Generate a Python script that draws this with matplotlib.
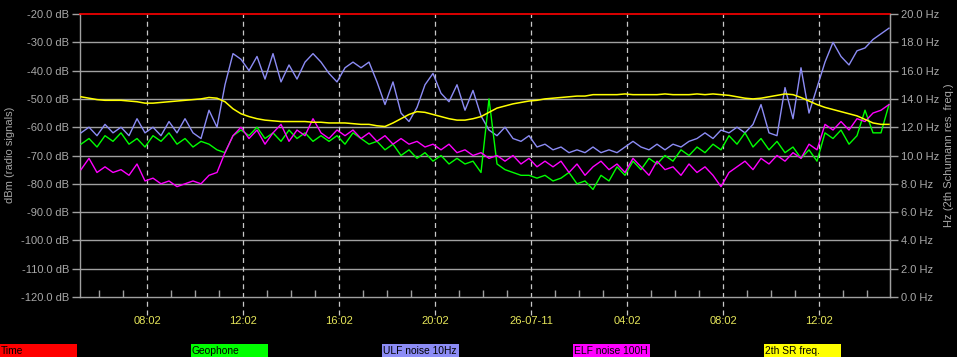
import numpy as np
import matplotlib
matplotlib.use('Agg')
import matplotlib.pyplot as plt
from matplotlib.patches import Rectangle

plt.rcParams['font.family'] = ['Liberation Sans', 'DejaVu Sans']

# time axis: hours relative to 08:02 of day 1, samples every 20 minutes
T_START = -2.75
T_STEP = 1 / 3

ulf = [-62, -60, -63, -59, -62, -60, -63, -57, -62, -60,
       -63, -58, -62, -57, -62, -64, -54, -60, -45, -34,
       -36, -40, -35, -43, -34, -44, -38, -43, -37, -34,
       -37, -41, -44, -39, -37, -39, -37, -44, -52, -44,
       -55, -58, -53, -45, -41, -48, -51, -45, -54, -47,
       -56, -61, -63, -60, -64, -65, -63, -67, -66, -68,
       -67, -69, -68, -69, -67, -69, -68, -69, -67, -65,
       -67, -68, -66, -68, -66, -67, -65, -64, -62, -64,
       -61, -62, -60, -62, -59, -52, -62, -63, -46, -57,
       -39, -55, -46, -37, -30, -35, -38, -33, -32, -29,
       -27, -25]

geophone = [-66, -64, -67, -63, -65, -62, -66, -64, -67, -63,
            -65, -62, -66, -64, -67, -65, -66, -68, -69, -63,
            -61, -63, -60, -64, -62, -65, -61, -64, -62, -65,
            -63, -65, -63, -66, -62, -64, -66, -65, -68, -66,
            -70, -68, -71, -69, -72, -70, -73, -71, -73, -72,
            -76, -50, -73, -75, -76, -77, -77, -78, -77, -79,
            -78, -76, -80, -79, -82, -77, -79, -74, -77, -72,
            -75, -71, -73, -70, -72, -68, -70, -67, -69, -66,
            -68, -63, -66, -62, -67, -64, -68, -65, -69, -67,
            -71, -68, -72, -62, -64, -61, -66, -63, -54, -62,
            -62, -52]

elf = [-75, -71, -76, -74, -76, -75, -77, -73, -79, -78,
       -80, -79, -81, -80, -79, -80, -77, -76, -69, -63,
       -60, -64, -61, -66, -62, -59, -65, -61, -63, -57,
       -62, -64, -61, -63, -61, -64, -62, -65, -63, -66,
       -64, -66, -65, -67, -66, -68, -66, -69, -68, -70,
       -69, -71, -70, -72, -70, -73, -71, -74, -72, -74,
       -72, -76, -73, -77, -74, -72, -75, -73, -76, -71,
       -74, -77, -72, -75, -74, -77, -73, -76, -74, -77,
       -81, -76, -74, -72, -75, -71, -73, -70, -72, -69,
       -71, -66, -68, -59, -61, -58, -61, -57, -58, -55,
       -54, -52]

sr_freq = [14.15, 14.05, 13.95, 13.9, 13.9, 13.9, 13.85, 13.8, 13.7, 13.7,
           13.75, 13.8, 13.85, 13.9, 13.95, 14.0, 14.1, 14.05, 13.8, 13.3,
           12.95, 12.75, 12.6, 12.5, 12.45, 12.4, 12.4, 12.4, 12.4, 12.35,
           12.35, 12.3, 12.3, 12.3, 12.25, 12.2, 12.2, 12.1, 12.05, 12.3,
           12.6, 12.9, 13.1, 13.05, 12.9, 12.75, 12.6, 12.5, 12.5, 12.6,
           12.75, 13.05, 13.35, 13.5, 13.65, 13.75, 13.85, 13.9, 14.0, 14.05,
           14.1, 14.15, 14.2, 14.2, 14.3, 14.3, 14.3, 14.3, 14.35, 14.3,
           14.3, 14.3, 14.3, 14.35, 14.3, 14.3, 14.3, 14.35, 14.3, 14.35,
           14.3, 14.25, 14.15, 14.05, 14.0, 14.05, 14.15, 14.25, 14.35, 14.3,
           14.1, 13.85, 13.6, 13.4, 13.25, 13.1, 12.95, 12.8, 12.55, 12.3,
           12.2, 12.2]

time_tick_pos = [0, 4, 8, 12, 16, 20, 24, 28]
time_tick_labels = ['08:02', '12:02', '16:02', '20:02', '26-07-11', '04:02', '08:02', '12:02']
legend_labels = ['Time', 'Geophone', 'ULF noise 10Hz', 'ELF noise 100H', '2th SR freq.']
legend_colors = ['#ff0000', '#00ff00', '#8c8cf5', '#ff00ff', '#ffff00']

GRID = '#a0a0a0'
LABEL = '#a8a8a8'
XLAB = '#e6e65a'

t = T_START + T_STEP * np.arange(len(ulf))

W, H = 957, 357
fig = plt.figure(figsize=(W / 100, H / 100), dpi=100, facecolor='black')
ax = fig.add_axes([80 / W, 1 - 297 / H, 810 / W, 283 / H])
ax.set_facecolor('black')
ax.set_xlim((80 - 147) / 24, (890 - 147) / 24)
ax.set_ylim(-120, -20)

for v in range(-110, -20, 10):
    ax.axhline(v, color=GRID, lw=1.0, zorder=1)
ax.axhline(-20, color='#ff0000', lw=1.2, zorder=5, clip_on=False)

ax.vlines(time_tick_pos, -0.065, 1, transform=ax.get_xaxis_transform(),
          colors='#c8c8c8', linestyles=(0, (4, 3)), lw=0.9, clip_on=False, zorder=1)

for s in ['top']:
    ax.spines[s].set_visible(False)
for s in ['left', 'right', 'bottom']:
    ax.spines[s].set_color(GRID)
    ax.spines[s].set_linewidth(1.0)

ax.plot(t, ulf, color=legend_colors[2], lw=1.0, zorder=3)
ax.plot(t, geophone, color=legend_colors[1], lw=1.0, zorder=3)
ax.plot(t, elf, color=legend_colors[3], lw=1.0, zorder=3)

ax.set_yticks(range(-120, -19, 10))
ax.set_yticklabels([f'{v:.1f} dB' for v in range(-120, -19, 10)])
ax.tick_params(axis='y', direction='out', length=6, width=1, color=GRID,
               labelcolor=LABEL, labelsize=8, pad=2)

ax.set_xticks(time_tick_pos)
ax.set_xticklabels(time_tick_labels)
ax.set_xticks(list(range(-2, 31)), minor=True)
ax.tick_params(axis='x', which='major', length=0, pad=14, labelcolor=XLAB, labelsize=8)
ax.tick_params(axis='x', which='minor', direction='in', length=5, width=1, color=GRID)

ax2 = ax.twinx()
ax2.set_ylim(0, 20)
ax2.patch.set_visible(False)
for s in ['top', 'left', 'bottom']:
    ax2.spines[s].set_visible(False)
ax2.spines['right'].set_color(GRID)
ax2.plot(t, sr_freq, color=legend_colors[4], lw=1.1, zorder=4)
ax2.set_yticks(range(0, 21, 2))
ax2.set_yticklabels([f'{v:.1f} Hz' for v in range(0, 21, 2)])
ax2.tick_params(axis='y', direction='out', length=6, width=1, color=GRID,
                labelcolor=LABEL, labelsize=8, pad=2)

fig.text(10 / W, 1 - 155 / H, 'dBm (radio signals)', rotation=90, ha='center', va='center',
         color=LABEL, fontsize=8)
fig.text(949 / W, 1 - 155 / H, 'Hz (2th Schumann res. freq.)', rotation=90, ha='center',
         va='center', color=LABEL, fontsize=8)

x0s = [0, 191, 382, 573, 764]
for x0, lab, col in zip(x0s, legend_labels, legend_colors):
    fig.patches.append(Rectangle((x0 / W, 0), 77 / W, 13 / H, transform=fig.transFigure,
                                 facecolor=col, edgecolor='none'))
    fig.text((x0 + 1) / W, 1 - 350.5 / H, lab, ha='left', va='center', color='black',
             fontsize=7.4)

fig.savefig('out.png', dpi=100, facecolor='black')
